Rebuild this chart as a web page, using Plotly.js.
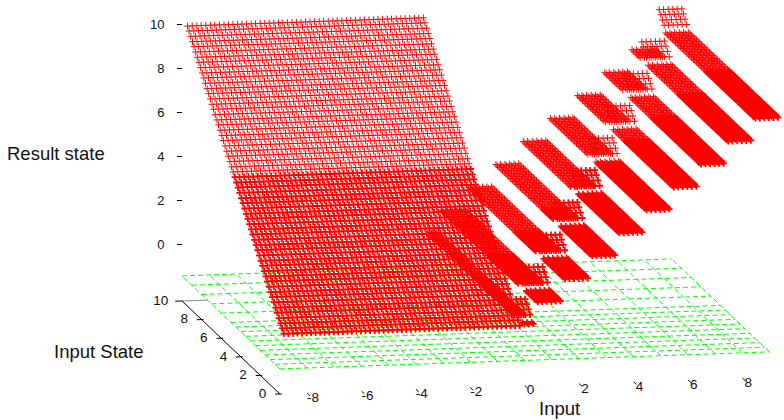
<!DOCTYPE html>
<html><head><meta charset="utf-8">
<script src="https://cdn.plot.ly/plotly-3.0.1.min.js"></script>
<style>html,body{margin:0;padding:0;background:#fff}</style></head>
<body><div id="chart" style="width:784px;height:420px"></div>
<script>
// Input samples
const inputValues = [-8.82,-8.65,-8.48,-8.32,-8.15,
-7.98,-7.82,-7.65,-7.48,-7.32,-7.15,-6.98,-6.82,-6.65,-6.48,-6.32,-6.15,
-5.98,-5.82,-5.65,-5.48,-5.32,-5.15,-4.98,-4.82,-4.65,-4.48,-4.32,-4.15,
-3.98,-3.82,-3.65,-3.48,-3.32,-3.15,-2.98,-2.82,-2.65,-2.48,-2.32,-2.15,
-1.98,-1.82,-1.65,-1.48,-1.32,-1.15,-0.98,-0.82,-0.65,-0.48,-0.32,-0.15,
0.02,0.18,0.35,0.52,0.68,0.85,1.02,1.18,1.35,1.52,1.68,1.85,2.02,2.18,2.35,
2.52,2.68,2.85,3.02,3.18,3.35,3.52,3.68,3.85,4.02,4.18,4.35,4.52,4.68,4.85,
5.02,5.18,5.35,5.52,5.68,5.85,6.02,6.18,6.35,6.52,6.68,6.85,7.02,7.18,7.35,
7.52,7.68,7.85,8.02,8.18,8.35,8.52,8.68,8.85,9.02,9.18,9.35];
// State samples
const upperStates = [9.93,9.77,9.6,9.43,9.27,9.1,8.93,8.77,8.6,8.43,8.27,8.1,7.93,7.77,7.6,7.43,7.27,7.1,6.93,6.77,6.6,6.43,6.27,6.1,5.93,5.77,5.6,5.43,5.27];
const lowerStates = [5.1,4.93,4.77,4.6,4.43,4.27,4.1,3.93,3.77,3.6,3.43,3.27,3.1,2.93,2.77,2.6,2.43,2.27,2.1,1.93,1.77,1.6,1.43,1.27,1.1,0.93,0.77,0.6,0.43,0.27,0.1];
// Strips: input range, result level, and the state range that rises with the state
const bandFirstInput = [0.02,0.52,1.52,2.52,3.52,4.52,5.52,6.52,7.52,8.52];
const bandLastInput  = [0.35,1.35,2.35,3.35,4.35,5.35,6.35,7.35,8.35,9.35];
const bandLevel      = [0.15,1.15,2.15,3.15,4.15,5.15,6.15,7.15,8.15,9.15];
const bandRiseFrom   = [0.3,1.3,2.3,3.3,4.3,5.3,6.3,7.3,8.3,9.3];
const bandRiseTo     = [0.99,1.99,2.99,3.99,4.99,5.99,6.99,7.99,8.99,9.99];
// Base grid
const gridInputs = [-9,-8,-7,-6,-5,-4,-3,-2,-1,0,1,2,3,4,5,6,7,8,9];
const gridStates = [10,9,8,7,6,5,4.5,4,3.5,3,2.5,2,1.5,1,0.5,0];
const gridLevel = -1.45;
// Axes
const axisFloor = -2.59;
const resultTicks = [0,2,4,6,8,10];
const inputTicks = [-8,-6,-4,-2,0,2,4,6,8];
const stateTicks = [0,2,4,6,8,10];

const planX = (x,y) => x + 0.36*(10-y);
const planY = (x,y,z) => z - (9.3/22)*(10-y) + (0.944/22)*(x+9);

function resultAt(x,y){
  if (x < 0) return y;
  for (let b=0;b<bandLevel.length;b++){
    if (x>=bandFirstInput[b] && x<=bandLastInput[b]){
      return (y>=bandRiseFrom[b] && y<=bandRiseTo[b]) ? y : bandLevel[b];
    }
  }
  return null;
}
function marks(states,width){
  const X=[],Y=[];
  for (const y of states) for (const x of inputValues){
    const z=resultAt(x,y);
    if (z===null) continue;
    X.push(planX(x,y)); Y.push(planY(x,y,z));
  }
  return {type:'scatter',mode:'markers',x:X,y:Y,cliponaxis:false,hoverinfo:'skip',showlegend:false,
    marker:{symbol:'cross-thin-open',size:4.8,color:'#ff0000',line:{color:'#ff0000',width:width}}};
}
function segs(list){
  const X=[],Y=[];
  for (const s of list){
    for (const p of s){ X.push(planX(p[0],p[1])); Y.push(planY(p[0],p[1],p[2])); }
    X.push(null); Y.push(null);
  }
  return {x:X,y:Y};
}
const gridLines=[];
for (const y of gridStates) gridLines.push([[-9,y,gridLevel],[9,y,gridLevel]]);
for (const x of gridInputs) gridLines.push([[x,0,gridLevel],[x,10,gridLevel]]);
const axisLines=[[[-9,0,axisFloor],[-9,10,axisFloor]],[[-9.25,10,axisFloor],[-9,10,axisFloor]]];
for (const t of stateTicks.slice(0,5)) axisLines.push([[-9.17,t,axisFloor],[-8.93,t,axisFloor]]);
for (const t of inputTicks) axisLines.push([[t,0,axisFloor],[t,-0.3,axisFloor]]);
const backTick=[[[-9,10,axisFloor],[-8.05,10,axisFloor]]];

const traces=[
 Object.assign(segs(gridLines),{type:'scatter',mode:'lines',cliponaxis:false,hoverinfo:'skip',showlegend:false,line:{color:'#00ff00',width:1,dash:'5px,3px'}}),
 marks(upperStates,1),
 marks(lowerStates,1.8),
 Object.assign(segs(backTick),{type:'scatter',mode:'lines',cliponaxis:false,hoverinfo:'skip',showlegend:false,line:{color:'#888888',width:1}}),
 Object.assign(segs(axisLines),{type:'scatter',mode:'lines',cliponaxis:false,hoverinfo:'skip',showlegend:false,line:{color:'#000000',width:1}}),
 {type:'scatter',mode:'text',cliponaxis:false,hoverinfo:'skip',showlegend:false,
  x:inputTicks.map(t=>planX(t,-0.6)),y:inputTicks.map(t=>planY(t,-0.6,axisFloor)),text:inputTicks.map(String),
  textposition:'middle center',textfont:{family:'Liberation Sans',size:13.5,color:'#111'}},
 {type:'scatter',mode:'text',cliponaxis:false,hoverinfo:'skip',showlegend:false,
  x:stateTicks.map(t=>planX(-9.5,t)),y:stateTicks.map(t=>planY(-9.5,t,axisFloor)),text:stateTicks.map(String),
  textposition:'middle left',textfont:{family:'Liberation Sans',size:13.5,color:'#111'}}
];
const f={family:'Liberation Sans',size:18.5,color:'#111'};
const lab=(t,px,py)=>({text:t,xref:'paper',yref:'paper',x:px/784,y:1-py/420,xanchor:'center',yanchor:'middle',showarrow:false,font:f});
const layout={
 width:784,height:420,showlegend:false,paper_bgcolor:'#fff',plot_bgcolor:'rgba(0,0,0,0)',
 margin:{l:0,r:0,t:0,b:0,pad:0},
 xaxis:{domain:[0,1],range:[-9-182/27.2,-9+602/27.2],visible:false,fixedrange:true},
 yaxis:{range:[-8,244/22],anchor:'free',position:182/784,tickmode:'array',tickvals:resultTicks,ticktext:resultTicks.map(String),ticks:'outside',ticklen:5,tickcolor:'#000',tickwidth:1,
   ticklabelstandoff:10,showline:false,showgrid:false,zeroline:false,fixedrange:true,tickfont:{family:'Liberation Sans',size:13,color:'#111'}},
 annotations:[lab('Result state',56,153),lab('Input State',99,351),lab('Input',559,408)]
};
Plotly.newPlot('chart',traces,layout,{staticPlot:true,displayModeBar:false});
</script></body></html>
